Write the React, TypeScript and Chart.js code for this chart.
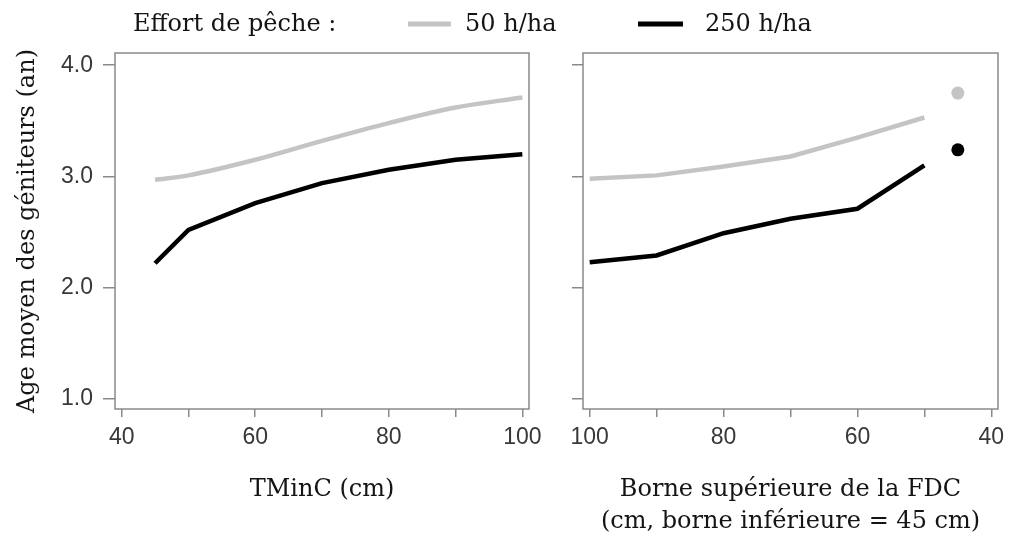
import React, { useEffect, useRef } from 'react';
import { Chart, registerables } from 'chart.js';

Chart.register(...registerables);

// ---- data ----
const legendPrefix = 'Effort de pêche :';
const seriesLabels = ['50 h/ha', '250 h/ha'];
const seriesColors = ['#c4c4c4', '#000000'];

// left panel: TMinC (cm)
const tminc = [45, 50, 60, 70, 80, 90, 100];
const tmincLow = [2.97, 3.01, 3.15, 3.32, 3.48, 3.62, 3.71];
const tmincHigh = [2.22, 2.52, 2.76, 2.94, 3.06, 3.15, 3.2];

// right panel: upper bound of the FDC (cm)
const fdcUpper = [100, 90, 80, 70, 60, 50];
const fdcLow = [2.98, 3.01, 3.09, 3.18, 3.35, 3.53];
const fdcHigh = [2.23, 2.29, 2.49, 2.62, 2.71, 3.1];
const fdcPointX = [45];
const fdcPointLow = [3.75];
const fdcPointHigh = [3.24];

const xTicks = [40, 50, 60, 70, 80, 90, 100];
const xTickLabels = [40, 60, 80, 100];
const yTicks = [1, 2, 3, 4];

const yTitle = 'Age moyen des géniteurs (an)';
const xTitleLeft = 'TMinC (cm)';
const xTitleRight = ['Borne supérieure de la FDC', '(cm, borne inférieure = 45 cm)'];

// ---- styles ----
const frameColor = '#8a8a8a';
const tickColor = '#383838';
const textColor = '#141414';
const serif = '"DejaVu Serif", serif';
const sans = '"Liberation Sans", Arial, sans-serif';

const framePlugin = {
  id: 'frame',
  afterDraw(chart: any) {
    const { left, top, right, bottom } = chart.chartArea;
    const ctx = chart.ctx;
    ctx.save();
    ctx.strokeStyle = frameColor;
    ctx.lineWidth = 1.5;
    ctx.strokeRect(left, top, right - left, bottom - top);
    ctx.restore();
  },
};

const figLegendPlugin = {
  id: 'figLegend',
  afterDraw(chart: any) {
    const ctx = chart.ctx;
    ctx.save();
    ctx.font = `24px ${serif}`;
    ctx.fillStyle = textColor;
    ctx.textBaseline = 'middle';
    ctx.textAlign = 'left';
    ctx.fillText(legendPrefix, 133, 25);
    const items = [
      { x0: 408, x1: 451, tx: 465 },
      { x0: 638, x1: 683, tx: 705 },
    ];
    seriesLabels.forEach((lab, i) => {
      const ds = chart.data.datasets[i];
      ctx.strokeStyle = ds.borderColor;
      ctx.lineWidth = 5;
      ctx.beginPath();
      ctx.moveTo(items[i].x0, 24);
      ctx.lineTo(items[i].x1, 24);
      ctx.stroke();
      ctx.fillText(lab, items[i].tx, 25);
    });
    ctx.restore();
  },
};

function xScale(reverse: boolean, title: string | string[], titleBottom: number) {
  return {
    type: 'linear' as const,
    min: 39,
    max: 101,
    reverse,
    afterBuildTicks: (s: any) => {
      s.ticks = xTicks.map((v) => ({ value: v }));
    },
    afterFit: (s: any) => {
      s.height = 132;
      s.paddingLeft = 0;
      s.paddingRight = 0;
    },
    border: { display: false },
    grid: {
      drawOnChartArea: false,
      drawTicks: true,
      tickLength: 8,
      color: frameColor,
      lineWidth: 1.5,
    },
    ticks: {
      autoSkip: false,
      maxRotation: 0,
      padding: 7,
      color: tickColor,
      font: { family: sans, size: 23 },
      callback: (v: any) => (xTickLabels.includes(Number(v)) ? String(v) : ''),
    },
    title: {
      display: true,
      text: title,
      color: textColor,
      font: { family: serif, size: 24, lineHeight: 1.333 },
      padding: { top: 0, bottom: titleBottom },
    },
  };
}

function yScale(showLabels: boolean, width: number, tickLength: number) {
  return {
    type: 'linear' as const,
    min: 0.91,
    max: 4.11,
    afterBuildTicks: (s: any) => {
      s.ticks = yTicks.map((v) => ({ value: v }));
    },
    afterFit: (s: any) => {
      s.width = width;
      s.paddingTop = 0;
      s.paddingBottom = 0;
    },
    border: { display: false },
    grid: {
      drawOnChartArea: false,
      drawTicks: true,
      tickLength,
      color: frameColor,
      lineWidth: 1.5,
    },
    ticks: {
      display: showLabels,
      padding: 10,
      color: tickColor,
      font: { family: sans, size: 23 },
      callback: (v: any) => Number(v).toFixed(1),
    },
    title: {
      display: showLabels,
      text: yTitle,
      color: textColor,
      font: { family: serif, size: 24, lineHeight: 1.333 },
      padding: { top: 12, bottom: 0 },
    },
  };
}

const lineDs = (label: string, xs: number[], ys: number[], color: string, smooth: boolean) => ({
  label,
  data: xs.map((x, i) => ({ x, y: ys[i] })),
  borderColor: color,
  backgroundColor: color,
  borderWidth: 4.5,
  pointRadius: 0,
  fill: false,
  cubicInterpolationMode: smooth ? ('monotone' as const) : ('default' as const),
});

const pointDs = (label: string, xs: number[], ys: number[], color: string) => ({
  label,
  data: xs.map((x, i) => ({ x, y: ys[i] })),
  showLine: false,
  pointRadius: 6.5,
  pointBorderWidth: 0,
  pointBackgroundColor: color,
  borderColor: color,
  backgroundColor: color,
});

export default function App() {
  const leftRef = useRef<HTMLCanvasElement>(null);
  const rightRef = useRef<HTMLCanvasElement>(null);

  useEffect(() => {
    const common = {
      responsive: false,
      animation: false as const,
      events: [] as any[],
      plugins: { legend: { display: false }, tooltip: { enabled: false } },
    };

    const left = new Chart(leftRef.current as HTMLCanvasElement, {
      type: 'line',
      data: {
        datasets: [
          lineDs(seriesLabels[0], tminc, tmincLow, seriesColors[0], true),
          lineDs(seriesLabels[1], tminc, tmincHigh, seriesColors[1], false),
        ],
      },
      options: {
        ...common,
        layout: { padding: { left: 0, right: 482, top: 53, bottom: 0 } },
        scales: {
          x: xScale(false, xTitleLeft, 35),
          y: yScale(true, 115, 12),
        },
      } as any,
      plugins: [framePlugin, figLegendPlugin],
    });

    const right = new Chart(rightRef.current as HTMLCanvasElement, {
      type: 'line',
      data: {
        datasets: [
          lineDs(seriesLabels[0], fdcUpper, fdcLow, seriesColors[0], false),
          lineDs(seriesLabels[1], fdcUpper, fdcHigh, seriesColors[1], false),
          pointDs(seriesLabels[0], fdcPointX, fdcPointLow, seriesColors[0]),
          pointDs(seriesLabels[1], fdcPointX, fdcPointHigh, seriesColors[1]),
        ],
      },
      options: {
        ...common,
        layout: { padding: { left: 572, right: 13, top: 53, bottom: 0 } },
        scales: {
          x: xScale(true, xTitleRight, 3),
          y: yScale(false, 11, 11),
        },
      } as any,
      plugins: [framePlugin],
    });

    return () => {
      left.destroy();
      right.destroy();
    };
  }, []);

  return (
    <div style={{ position: 'absolute', left: 0, top: 0, width: 1011, height: 541, background: '#ffffff' }}>
      <canvas ref={leftRef} width={1011} height={541} style={{ position: 'absolute', left: 0, top: 0 }} />
      <canvas ref={rightRef} width={1011} height={541} style={{ position: 'absolute', left: 0, top: 0 }} />
    </div>
  );
}
